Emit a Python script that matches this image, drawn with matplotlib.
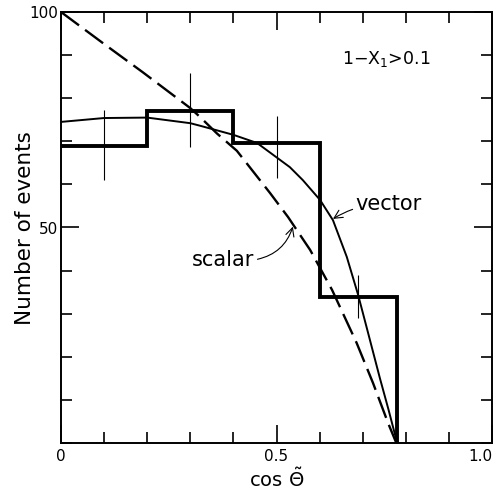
import matplotlib
matplotlib.use("Agg")
import matplotlib.pyplot as plt
from matplotlib.ticker import MultipleLocator, FixedLocator

plt.rcParams['font.family'] = ['DejaVu Sans']
plt.rcParams['mathtext.fontset'] = 'dejavusans'

# Histogram data (bin edges and counts)
bin_edges = [0.0, 0.2, 0.4, 0.6, 0.78]
counts = [68.8, 77.1, 69.5, 33.9]
err_x = [0.1, 0.3, 0.5, 0.69]
err_lo = [61.0, 68.7, 61.5, 29.0]
err_hi = [77.3, 85.8, 75.9, 39.0]

# Vector curve (solid)
vec_x = [0.0, 0.1, 0.2, 0.3, 0.323, 0.4, 0.455, 0.531, 0.561, 0.601, 0.631, 0.663, 0.689, 0.71, 0.74, 0.76, 0.78]
vec_y = [74.5, 75.4, 75.5, 74.2, 73.6, 71.5, 69.6, 64.0, 61.0, 56.4, 51.7, 43.2, 34.5, 26.5, 15.0, 7.7, 0.0]

# Scalar curve (dashed)
sca_x = [0.0, 0.097, 0.19, 0.30, 0.323, 0.362, 0.408, 0.485, 0.527, 0.578, 0.629, 0.686, 0.724, 0.759, 0.778]
sca_y = [100.0, 92.8, 86.0, 77.7, 75.6, 71.8, 67.8, 58.0, 52.4, 44.8, 35.5, 23.2, 13.9, 4.6, 0.0]

fig = plt.figure(figsize=(4.94, 4.91), dpi=100)
ax = fig.add_axes([61/494, 48/491, 431/494, 431/491])

# histogram as step line
hx = [bin_edges[0]]
hy = [counts[0]]
for i, c in enumerate(counts):
    hx += [bin_edges[i], bin_edges[i+1]]
    hy += [c, c]
hx.append(bin_edges[-1])
hy.append(0.0)
ax.plot(hx, hy, color='black', lw=2.8, solid_joinstyle='miter')

ax.vlines(err_x, err_lo, err_hi, color='black', lw=0.8)

ax.plot(vec_x, vec_y, color='black', lw=1.4, solid_joinstyle='round')
ax.plot(sca_x, sca_y, color='black', lw=1.7, dashes=(9.5, 3.2))

ax.set_xlim(0, 1.0)
ax.set_ylim(0, 100)

ax.xaxis.set_major_locator(FixedLocator([0, 0.5, 1.0]))
ax.xaxis.set_minor_locator(MultipleLocator(0.1))
ax.yaxis.set_major_locator(FixedLocator([50, 100]))
ax.yaxis.set_minor_locator(MultipleLocator(10))
ax.set_xticklabels(['0', '0.5', '1.0'])
ax.set_yticklabels(['50', '100'])
ax.get_xticklabels()[-1].set_horizontalalignment('right')

ax.tick_params(which='both', direction='in', top=True, right=True, width=1.2,
               labelsize=11)
ax.tick_params(axis='x', pad=4)
ax.tick_params(axis='y', pad=2)
ax.tick_params(which='major', length=13)
ax.tick_params(which='minor', length=8)
for s in ax.spines.values():
    s.set_linewidth(1.4)

ax.set_ylabel('Number of events', fontsize=15.5)
ax.yaxis.label.set_va('center')
ax.yaxis.set_label_coords(-0.0835, 0.499)
ax.set_xlabel(r'$\mathrm{cos}\ \tilde{\Theta}$', fontsize=14, labelpad=3)

ax.text(0.755, 89, r'1$-$X$_1$>0.1', fontsize=12.5, ha='center', va='center')

ax.annotate('vector', xy=(0.631, 52.0), xytext=(0.683, 55.5), fontsize=15,
            ha='left', va='center',
            arrowprops=dict(arrowstyle='->', lw=0.8, color='black',
                            connectionstyle='arc3,rad=0.15', shrinkA=0, shrinkB=0))
ax.annotate('scalar', xy=(0.538, 50.2), xytext=(0.377, 42.5), fontsize=15,
            ha='center', va='center',
            arrowprops=dict(arrowstyle='->', lw=0.8, color='black',
                            connectionstyle='arc3,rad=0.3', shrinkA=0, shrinkB=0,
                            relpos=(1.0, 0.5)))

fig.savefig('out.png', dpi=100)
